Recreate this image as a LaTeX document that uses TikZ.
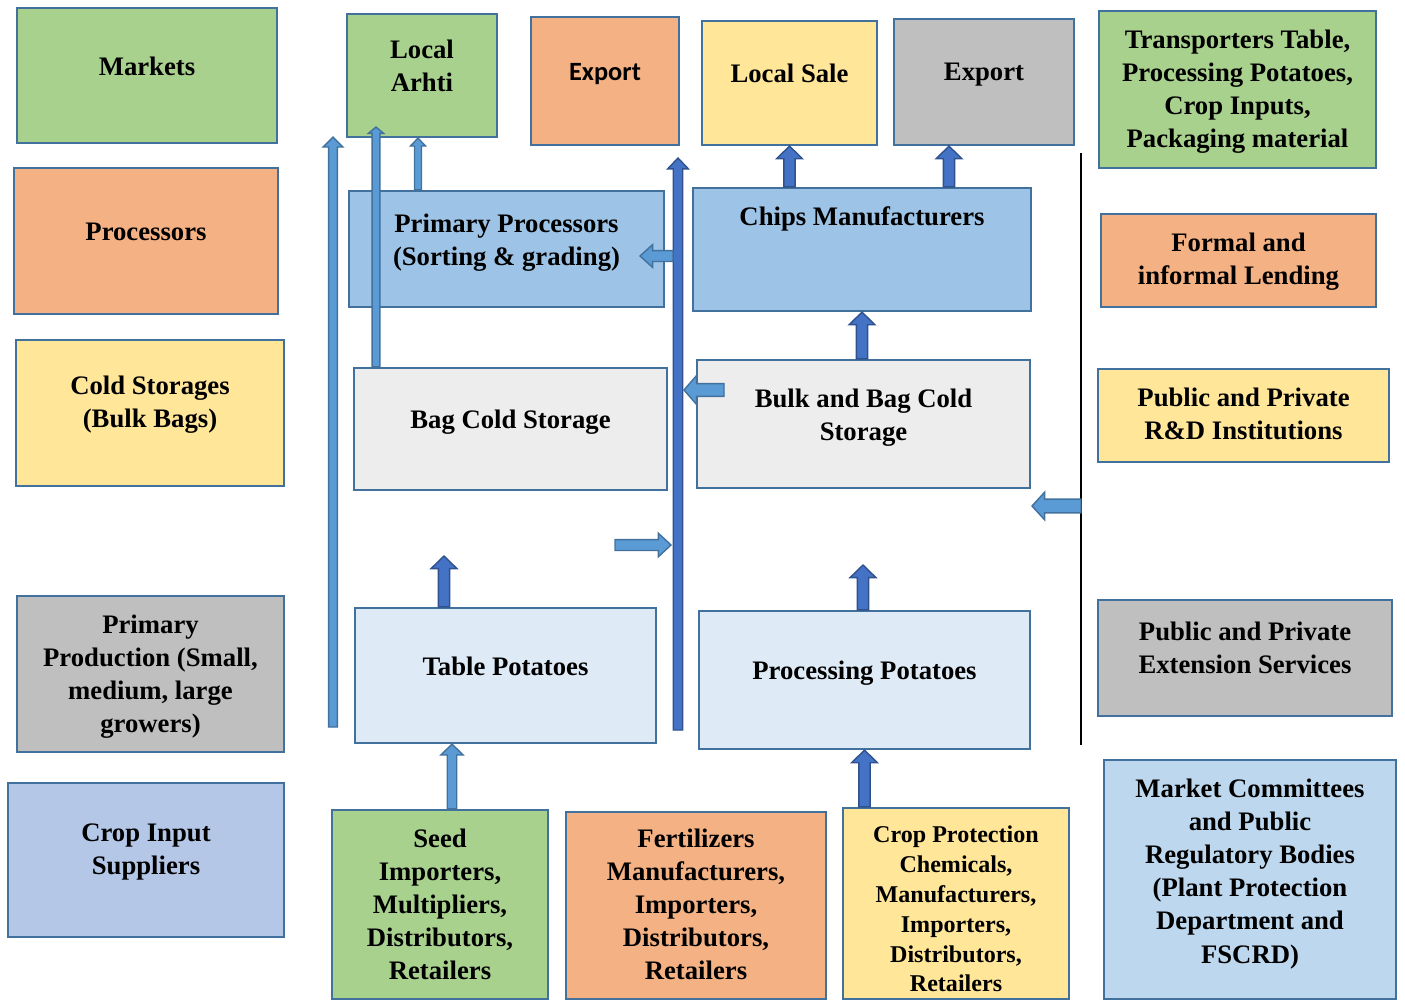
\documentclass[tikz,border=0pt]{standalone}
\usepackage{fontspec}
\setmainfont{Liberation Serif}
\newfontfamily\calibri{Carlito}
\usepackage{tikz}
\usetikzlibrary{calc,positioning}

\definecolor{cgreen}{HTML}{A9D18E}
\definecolor{corange}{HTML}{F4B183}
\definecolor{cyellow}{HTML}{FFE699}
\definecolor{cgray}{HTML}{BFBFBF}
\definecolor{cperi}{HTML}{B4C7E7}
\definecolor{csky}{HTML}{BDD7EE}
\definecolor{cblue}{HTML}{9DC3E6}
\definecolor{csilver}{HTML}{EDEDED}
\definecolor{cpale}{HTML}{DEEBF7}
\definecolor{cedge}{HTML}{41719C}
\definecolor{adark}{HTML}{4472C4}
\definecolor{adarkline}{HTML}{2F528F}
\definecolor{alight}{HTML}{5B9BD5}

% default block arrow sizes
\def\bashaft{3pt}
\def\bahead{7pt}
\def\balen{7pt}

\begin{document}
\begin{tikzpicture}[x=0.02cm, y=-0.02cm,
		box/.style={rectangle, draw=cedge, line width=1.3pt, inner sep=0pt},
		lbl/.style={font=\bfseries\fontsize{15.2}{18.8}\selectfont, align=center, inner sep=0pt},
		small lbl/.style={font=\bfseries\fontsize{13.7}{17}\selectfont, align=center, inner sep=0pt},
		ba shaft/.store in=\bashaft,
		ba head/.store in=\bahead,
		ba len/.store in=\balen,
		ba big/.style={ba shaft=3.2pt, ba head=7.4pt, ba len=7.2pt},
		block/.style={ %outlined block arrow from start to target
			line width=0.8pt,
			to path={
				let \p1=(\tikztostart), \p2=(\tikztotarget),
				    \n1={veclen(\x2-\x1,\y2-\y1)},
				    \n2={(\x2-\x1)/\n1}, \n3={(\y2-\y1)/\n1}
				in ({\x1-\bashaft*(\n3)},{\y1+\bashaft*(\n2)})
				-- ({\x2-\balen*(\n2)-\bashaft*(\n3)},{\y2-\balen*(\n3)+\bashaft*(\n2)})
				-- ({\x2-\balen*(\n2)-\bahead*(\n3)},{\y2-\balen*(\n3)+\bahead*(\n2)})
				-- (\x2,\y2)
				-- ({\x2-\balen*(\n2)+\bahead*(\n3)},{\y2-\balen*(\n3)-\bahead*(\n2)})
				-- ({\x2-\balen*(\n2)+\bashaft*(\n3)},{\y2-\balen*(\n3)-\bashaft*(\n2)})
				-- ({\x1+\bashaft*(\n3)},{\y1-\bashaft*(\n2)})
				-- cycle}
		},
		dark arrow/.style={block, fill=adark, draw=adarkline},
		light arrow/.style={block, fill=alight, draw=cedge}
	]
	\useasboundingbox (0,0) rectangle (1405,1001);

	% actors on the left
	\node[box, fill=cgreen, minimum width=5.2cm, minimum height=2.7cm,
		label={[lbl, yshift=1.9mm]center:Markets}] (markets) at (147,75.5) {};
	\node[box, fill=corange, minimum width=5.28cm, minimum height=2.92cm,
		label={[lbl, yshift=1.8mm]center:Processors}] (processors) at (146,241) {};
	\node[box, fill=cyellow, minimum width=5.36cm, minimum height=2.92cm,
		label={[lbl, yshift=1.7mm]center:{Cold Storages\\(Bulk Bags)}}] (coldstore) at (150,413) {};
	\node[box, fill=cgray, minimum width=5.34cm, minimum height=3.12cm,
		label={[lbl, yshift=-0.6mm]center:{Primary\\Production (Small,\\medium, large\\growers)}}] (primprod) at (150.5,674) {};
	\node[box, fill=cperi, minimum width=5.52cm, minimum height=3.08cm,
		label={[lbl, yshift=1.6mm]center:{Crop Input\\Suppliers}}] (inputs) at (146,860) {};

	% outlets
	\node[box, fill=cgreen, minimum width=3cm, minimum height=2.46cm,
		label={[lbl, yshift=2mm]center:{Local\\Arhti}}] (arhti) at (422,75.5) {};
	\node[box, fill=corange, minimum width=2.96cm, minimum height=2.56cm,
		label={[lbl, font=\calibri\bfseries\fontsize{15}{18}\selectfont, yshift=1.4mm]center:Export}] (export1) at (605,81) {};
	\node[box, fill=cyellow, minimum width=3.5cm, minimum height=2.48cm,
		label={[lbl, yshift=2mm]center:{Local Sale}}] (localsale) at (789.5,83) {};
	\node[box, fill=cgray, minimum width=3.6cm, minimum height=2.52cm,
		label={[lbl, yshift=1.4mm]center:Export}] (export2) at (984,82) {};

	% processing and storage
	\node[box, fill=cblue, minimum width=6.3cm, minimum height=2.32cm,
		label={[lbl, yshift=1.3mm]center:{Primary Processors\\(Sorting \& grading)}}] (primproc) at (506.5,249) {};
	\node[box, fill=cblue, minimum width=6.76cm, minimum height=2.46cm,
		label={[lbl, yshift=6.1mm]center:{Chips Manufacturers}}] (chips) at (862,249.5) {};
	\node[box, fill=csilver, minimum width=6.26cm, minimum height=2.44cm,
		label={[lbl, yshift=1.4mm]center:{Bag Cold Storage}}] (bagcold) at (510.5,429) {};
	\node[box, fill=csilver, minimum width=6.66cm, minimum height=2.56cm,
		label={[lbl, yshift=1.3mm]center:{Bulk and Bag Cold\\Storage}}] (bulkcold) at (863.5,424) {};
	\node[box, fill=cpale, minimum width=6.02cm, minimum height=2.7cm,
		label={[lbl, yshift=1.9mm]center:{Table Potatoes}}] (tabpot) at (505.5,675.5) {};
	\node[box, fill=cpale, minimum width=6.62cm, minimum height=2.76cm,
		label={[lbl, yshift=1.4mm]center:{Processing Potatoes}}] (procpot) at (864.5,680) {};

	% input suppliers along the bottom
	\node[box, fill=cgreen, minimum width=4.32cm, minimum height=3.78cm,
		label={[lbl]center:{Seed\\Importers,\\Multipliers,\\Distributors,\\Retailers}}] (seed) at (440,904.5) {};
	\node[box, fill=corange, minimum width=5.2cm, minimum height=3.74cm,
		label={[lbl, yshift=0.2mm]center:{Fertilizers\\Manufacturers,\\Importers,\\Distributors,\\Retailers}}] (fert) at (696,905.5) {};
	\node[box, fill=cyellow, minimum width=4.52cm, minimum height=3.82cm,
		label={[small lbl, yshift=-1.1mm]center:{Crop Protection\\Chemicals,\\Manufacturers,\\Importers,\\Distributors,\\Retailers}}] (cropprot) at (956,903.5) {};

	% support services on the right
	\node[box, fill=cgreen, minimum width=5.54cm, minimum height=3.14cm,
		label={[lbl, yshift=-0.4mm]center:{Transporters Table,\\Processing Potatoes,\\Crop Inputs,\\Packaging material}}] (transp) at (1237.5,89.5) {};
	\node[box, fill=corange, minimum width=5.5cm, minimum height=1.86cm,
		label={[lbl, yshift=-0.2mm]center:{Formal and\\informal Lending}}] (lending) at (1238.5,260.5) {};
	\node[box, fill=cyellow, minimum width=5.82cm, minimum height=1.86cm,
		label={[lbl, yshift=0.4mm]center:{Public and Private\\R\&D Institutions}}] (rnd) at (1243.5,415.5) {};
	\node[box, fill=cgray, minimum width=5.88cm, minimum height=2.32cm,
		label={[lbl, yshift=2.1mm]center:{Public and Private\\Extension Services}}] (extension) at (1245,658) {};
	\node[box, fill=csky, minimum width=5.84cm, minimum height=4.78cm,
		label={[lbl, yshift=1.1mm]center:{Market Committees\\and Public\\Regulatory Bodies\\(Plant Protection\\Department and\\FSCRD)}}] (committees) at (1250,879.5) {};

	% free ends of the loose connectors
	\coordinate (rail top) at (1081,153);
	\coordinate (rail foot) at (1081,745);
	\coordinate (spine foot) at (678,730);
	\coordinate (spine head) at (678,158);
	\coordinate (left foot) at (333,727);
	\coordinate (left head) at (333,137);
	\coordinate (ar tip) at (376,127);
	\coordinate (pr col) at (418,0);
	\coordinate (sd col) at (452,0);
	\coordinate (ex col) at (949,0);
	\coordinate (tp tip) at (444,556);
	\coordinate (pp tip) at (863,565);
	\coordinate (pp feed) at (673,256);
	\coordinate (pp feed tip) at (640,256);
	\coordinate (bulk out) at (724,390);
	\coordinate (bulk out tip) at (684,390);
	\coordinate (tab out) at (615,545);
	\coordinate (tab out tip) at (671,545);
	\coordinate (rail out) at (1081,506);
	\coordinate (rail out tip) at (1032,506);

	\draw[line width=0.9pt] (rail top) -- (rail foot);

	% dark block arrows
	\draw[dark arrow, ba big] (localsale.south |- chips.north) to (localsale.south);
	\draw[dark arrow, ba big] (ex col |- chips.north) to (ex col |- export2.south);
	\draw[dark arrow, ba big] (chips.south |- bulkcold.north) to (chips.south);
	\draw[dark arrow, ba big] (tp tip |- tabpot.north) to (tp tip);
	\draw[dark arrow, ba big] (pp tip |- procpot.north) to (pp tip);
	\draw[dark arrow, ba big] (procpot.south |- cropprot.north) to (procpot.south);
	\draw[dark arrow, ba shaft=2.7pt, ba head=5.9pt, ba len=6.2pt] (spine foot) to (spine head);

	% light block arrows
	\draw[light arrow, ba shaft=2.7pt, ba head=6.4pt, ba len=6.2pt] (sd col |- seed.north) to (sd col |- tabpot.south);
	\draw[light arrow, ba shaft=2.5pt, ba head=5.6pt, ba len=5.7pt] (left foot) to (left head);
	\draw[light arrow, ba shaft=2.2pt, ba head=4.3pt, ba len=3.6pt] (ar tip |- bagcold.north) to (ar tip);
	\draw[light arrow, ba shaft=2pt, ba head=4.3pt, ba len=4.5pt] (pr col |- primproc.north) to (pr col |- arhti.south);
	\draw[light arrow, ba shaft=3.1pt, ba head=6.5pt, ba len=7.2pt] (pp feed) to (pp feed tip);
	\draw[light arrow, ba shaft=3.6pt, ba head=8.3pt, ba len=7.2pt] (bulk out) to (bulk out tip);
	\draw[light arrow, ba shaft=3.1pt, ba head=6.7pt, ba len=7.2pt] (tab out) to (tab out tip);
	\draw[light arrow, ba shaft=3.9pt, ba head=7.9pt, ba len=7.2pt] (rail out) to (rail out tip);
\end{tikzpicture}
\end{document}
